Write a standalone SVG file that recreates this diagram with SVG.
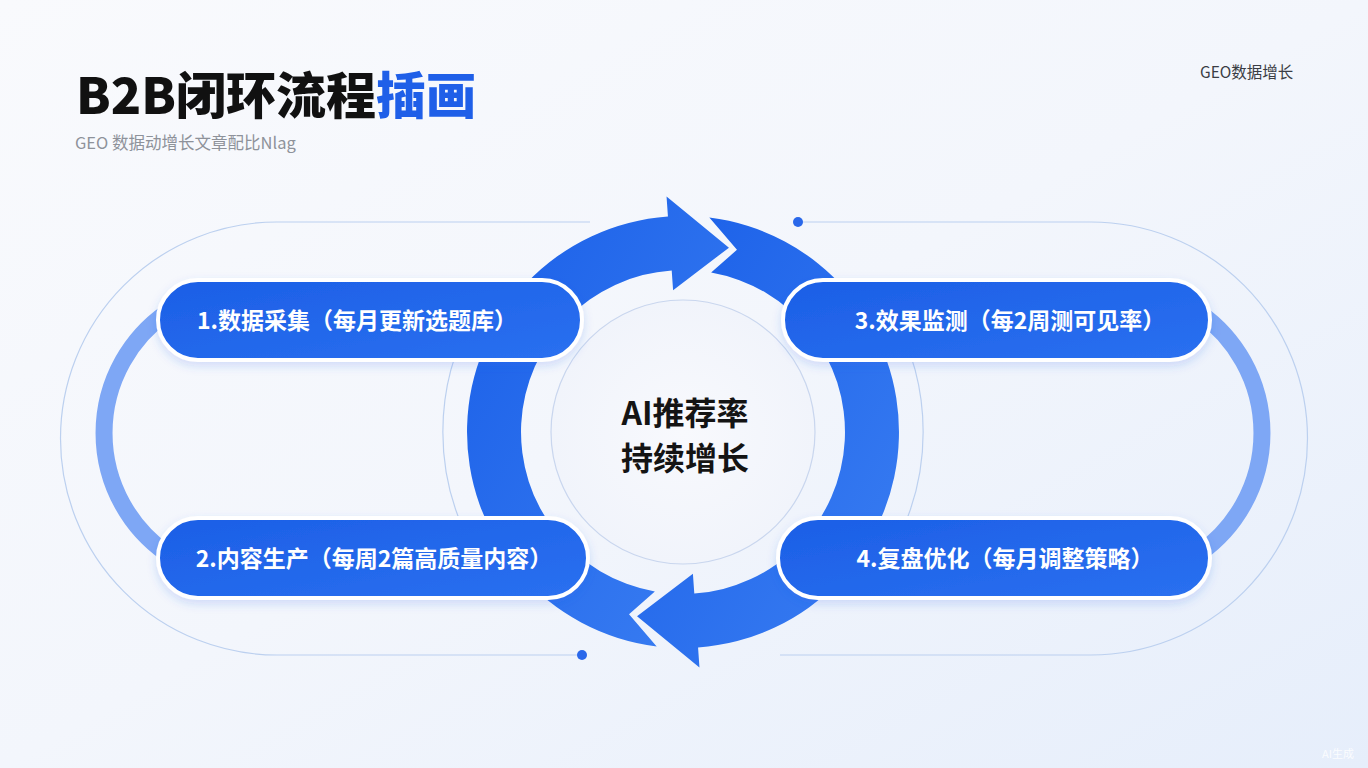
<svg xmlns="http://www.w3.org/2000/svg" width="1368" height="768" viewBox="0 0 1368 768">
  <defs>
    <linearGradient id="bg" x1="0" y1="0" x2="1" y2="1">
      <stop offset="0" stop-color="#f9fafd"/>
      <stop offset="0.5" stop-color="#f3f6fc"/>
      <stop offset="1" stop-color="#e6eefb"/>
    </linearGradient>
    <linearGradient id="ringG" x1="0" y1="0" x2="1" y2="1">
      <stop offset="0" stop-color="#1a5fe8"/>
      <stop offset="1" stop-color="#3a7ef2"/>
    </linearGradient>
    <linearGradient id="pillG" x1="0" y1="0" x2="1" y2="1">
      <stop offset="0" stop-color="#1c5fe6"/>
      <stop offset="1" stop-color="#2a70f0"/>
    </linearGradient>
    <radialGradient id="innerG" cx="0.5" cy="0.5" r="0.5">
      <stop offset="0" stop-color="#f8f9fd"/>
      <stop offset="1" stop-color="#f1f4fb"/>
    </radialGradient>
    <filter id="sh" x="-10%" y="-30%" width="120%" height="170%">
      <feDropShadow dx="0" dy="4" stdDeviation="5" flood-color="#1a5fe8" flood-opacity="0.18"/>
    </filter>
    <style>
      .thin { fill: none; stroke: #bcd0ef; stroke-width: 1.2; }
      .side { fill: none; stroke: #7ea7f5; stroke-width: 17; }
      .ring { fill: url(#ringG); }
      .pill { fill: url(#pillG); stroke: #ffffff; stroke-width: 4; filter: url(#sh); }
      .pt { font-family: "Noto Sans CJK SC", "Noto Sans", sans-serif; font-weight: 700; font-size: 23px; fill: #ffffff; text-anchor: middle; }
      .dot { fill: #2a68ea; }
    </style>
  </defs>

  <rect x="0" y="0" width="1368" height="768" fill="url(#bg)"/>

  <!-- title -->
  <g id="title">
    <text x="76" y="114" font-family="Noto Sans CJK SC, Noto Sans, sans-serif" font-weight="900" font-size="50" fill="#111111">B2B闭环流程<tspan fill="#1f5fe8">插画</tspan></text>
    <text x="75" y="149" font-family="Noto Sans CJK SC, Noto Sans, sans-serif" font-size="16.5" fill="#8e929a">GEO 数据动增长文章配比Nlag</text>
  </g>
  <text id="tag" x="1200" y="78" font-family="Noto Sans CJK SC, Noto Sans, sans-serif" font-size="15.5" fill="#3a3d44">GEO数据增长</text>
  <text id="ai" x="1322" y="758" font-family="Noto Sans CJK SC, Noto Sans, sans-serif" font-size="11" fill="#ffffff" fill-opacity="0.85">AI生成</text>

  <!-- connectors -->
  <g id="connectors">
    <!-- outer thin loops -->
    <path class="thin" d="M590 222 H277 A216.5 216.5 0 0 0 277 655 H582"/>
    <path class="thin" d="M798 222 H1091 A216.5 216.5 0 0 1 1091 655 H780"/>
    <circle class="dot" cx="798" cy="222" r="5"/>
    <circle class="dot" cx="582" cy="655" r="5"/>
    <!-- thin arcs beside main cycle -->
    <path class="thin" stroke="#cfdcf1" d="M475 312 A240 240 0 0 0 475 552"/>
    <path class="thin" stroke="#cfdcf1" d="M891 312 A240 240 0 0 1 891 552"/>
    <!-- side light arcs -->
    <path class="side" d="M166.7 312.6 A147 147 0 0 0 166.7 553.4"/>
    <path class="side" d="M1199.3 312.6 A147 147 0 0 1 1199.3 553.4"/>
    <!-- main cycle arrows -->
    <path class="ring" d="M709.32 217.61 A216 216 0 0 1 698.07 647.47 L699.46 667.42 L637.04 616.36 L692.91 573.65 L694.30 593.60 A162 162 0 0 0 711.13 272.46 L736.96 249.82 Z"/>
    <path class="ring" d="M656.68 646.39 A216 216 0 0 1 667.93 216.53 L666.54 196.58 L728.96 247.64 L673.09 290.35 L671.70 270.40 A162 162 0 0 0 654.87 591.54 L629.04 614.18 Z"/>
  </g>

  <!-- center -->
  <g id="center">
    <circle cx="683" cy="432" r="132" fill="url(#innerG)" stroke="#c9d6ee" stroke-width="1.2"/>
    <text x="685" y="425" text-anchor="middle" font-family="Noto Sans CJK SC, Noto Sans, sans-serif" font-weight="700" font-size="32" fill="#141414">AI推荐率</text>
    <text x="685" y="470" text-anchor="middle" font-family="Noto Sans CJK SC, Noto Sans, sans-serif" font-weight="700" font-size="32" fill="#141414">持续增长</text>
  </g>

  <g id="step1">
    <rect class="pill" x="158" y="280" width="424" height="80" rx="40"/>
    <text class="pt" x="357" y="329">1.数据采集（每月更新选题库）</text>
  </g>
  <g id="step3">
    <rect class="pill" x="783" y="280" width="427" height="80" rx="40"/>
    <text class="pt" x="1010" y="329">3.效果监测（每2周测可见率）</text>
  </g>
  <g id="step2">
    <rect class="pill" x="158" y="518" width="430" height="80" rx="40"/>
    <text class="pt" x="374" y="567">2.内容生产（每周2篇高质量内容）</text>
  </g>
  <g id="step4">
    <rect class="pill" x="778" y="518" width="432" height="80" rx="40"/>
    <text class="pt" x="1005" y="567">4.复盘优化（每月调整策略）</text>
  </g>
</svg>
